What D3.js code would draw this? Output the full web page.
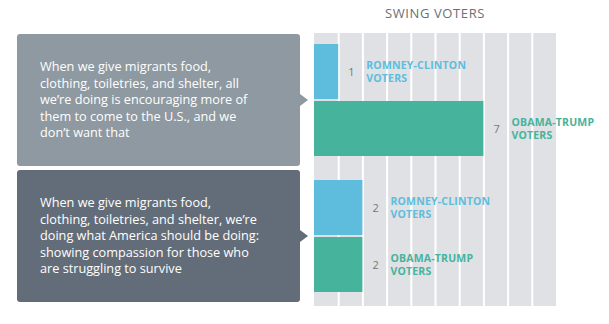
<!DOCTYPE html>
<html><head><meta charset="utf-8">
<script src="https://cdn.jsdelivr.net/npm/d3@7"></script>
<style>
body{margin:0;background:#fff;}
svg{display:block;}
</style></head><body>
<svg id="c" width="609" height="324"></svg>
<script>
const title = "SWING VOTERS";
const statements = [
  ["When we give migrants food,", "clothing, toiletries, and shelter, all", "we\u2019re doing is encouraging more of", "them to come to the U.S., and we", "don\u2019t want that"],
  ["When we give migrants food,", "clothing, toiletries, and shelter, we\u2019re", "doing what America should be doing:", "showing compassion for those who", "are struggling to survive"]
];
const statementKeys = ["discourage", "compassion"];
const series = ["ROMNEY-CLINTON|VOTERS", "OBAMA-TRUMP|VOTERS"];
const romneyClinton = [1, 2];
const obamaTrump = [7, 2];
const xTicks = [1,2,3,4,5,6,7,8,9];

const seriesColors = ["#5ebddd", "#46b39c"];
const boxColors = ["#8e99a1", "#636d79"];

const svg = d3.select("#c");
const x = d3.scaleLinear().domain([0, 10]).range([314, 556]);
const y0 = d3.scaleBand().domain(statementKeys).range([32, 304]).paddingInner(24/136).paddingOuter(12/136);
const y1 = d3.scaleBand().domain(series).range([0, y0.bandwidth()]).paddingInner(2/57);

// background
svg.append("rect").attr("x", x(0)).attr("y", 33).attr("width", x(10) - x(0)).attr("height", 273).attr("fill", "#dfe1e4");
// gridlines via axis
const grid = svg.append("g").attr("transform", "translate(0,33)")
  .call(d3.axisBottom(x).tickValues(xTicks).tickSize(273).tickFormat(""));
grid.select(".domain").remove();
grid.selectAll(".tick line").attr("stroke", "#fff").attr("stroke-width", 2);

// title
svg.append("text").attr("x", (x(0) + x(10)) / 2).attr("y", 18).attr("text-anchor", "middle")
  .attr("font-family", "Open Sans").attr("font-size", 13).attr("letter-spacing", 0.6).attr("fill", "#6b6f73").text(title);

const vals = [romneyClinton, obamaTrump];
statementKeys.forEach((k, i) => {
  const g = svg.append("g").attr("transform", `translate(0,${y0(k)})`);
  series.forEach((s, j) => {
    const v = vals[j][i];
    const yy = y1(s);
    g.append("rect").attr("x", x(0)).attr("y", yy).attr("width", x(v) - x(0)).attr("height", y1.bandwidth()).attr("fill", seriesColors[j]);
    const cy = yy + y1.bandwidth() / 2;
    g.append("text").attr("x", x(v) + 10).attr("y", cy + 4).attr("font-family", "Open Sans").attr("font-size", 11)
      .attr("fill", "#777").text(v);
    const lines = s.split("|");
    const t = g.append("text").attr("font-family", "Open Sans").attr("font-weight", "bold").attr("font-size", 10.5)
      .attr("fill", seriesColors[j]).attr("letter-spacing", 0.2);
    lines.forEach((ln, li) => {
      t.append("tspan").attr("x", x(v) + 28).attr("y", cy - 3 + li * 13.5).text(ln);
    });
  });

  // statement box
  const c = y0(k) + y0.bandwidth() / 2;
  const bx = svg.append("g");
  bx.append("rect").attr("x", 17).attr("y", c - 66).attr("width", 283).attr("height", 132).attr("rx", 3).attr("fill", boxColors[i]);
  bx.append("path").attr("d", `M300,${c-6}L308,${c}L300,${c+6}Z`).attr("fill", boxColors[i]);
  const tt = bx.append("text").attr("font-family", "Open Sans").attr("font-size", 12.7).attr("fill", "#fff");
  statements[i].forEach((ln, li) => {
    tt.append("tspan").attr("x", 40).attr("y", c - 28.6 + li * 16.5).text(ln);
  });
});
</script>
</body></html>
